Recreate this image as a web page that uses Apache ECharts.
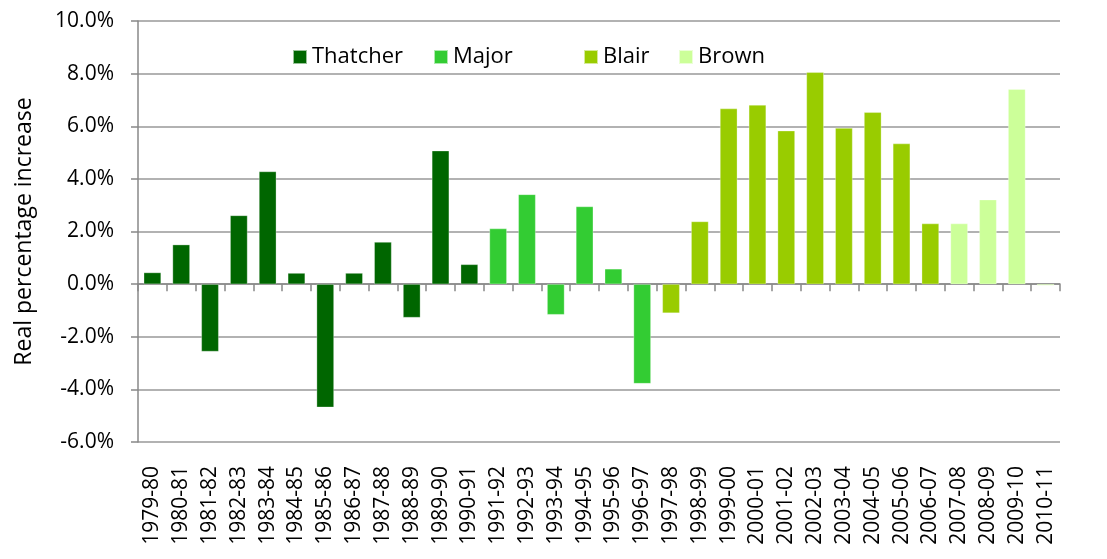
<!DOCTYPE html>
<html>
<head>
<meta charset="utf-8">
<script src="https://cdn.jsdelivr.net/npm/echarts@6/dist/echarts.min.js"></script>
<style>
  html, body { margin: 0; padding: 0; background: #fff; }
  #chart { width: 1107px; height: 559px; }
</style>
</head>
<body>
<div id="chart"></div>
<script>
var years = ['1979-80','1980-81','1981-82','1982-83','1983-84','1984-85','1985-86','1986-87',
    '1987-88','1988-89','1989-90','1990-91','1991-92','1992-93','1993-94','1994-95',
    '1995-96','1996-97','1997-98','1998-99','1999-00','2000-01','2001-02','2002-03',
    '2003-04','2004-05','2005-06','2006-07','2007-08','2008-09','2009-10','2010-11'];
// real percentage increase per year, split by prime minister
var thatcher = [0.44, 1.50, -2.56, 2.61, 4.28, 0.42, -4.68, 0.42, 1.60, -1.27, 5.07, 0.75];
var major = [2.11, 3.41, -1.16, 2.95, 0.58, -3.78];
var blair = [-1.10, 2.38, 6.67, 6.81, 5.83, 8.05, 5.93, 6.53, 5.34, 2.30];
var brown = [2.30, 3.21, 7.41, -0.05];
var yTicks = { min: -6, max: 10, step: 2 };

// pad each series so it sits in its own years
function place(vals, start) {
    var out = [];
    for (var i = 0; i < years.length; i++) {
        var j = i - start;
        out.push(j >= 0 && j < vals.length ? vals[j] : '-');
    }
    return out;
}
var groups = [
    { name: 'Thatcher', vals: thatcher, color: '#006600', legendX: 287 },
    { name: 'Major', vals: major, color: '#33cc33', legendX: 428 },
    { name: 'Blair', vals: blair, color: '#99cc00', legendX: 578 },
    { name: 'Brown', vals: brown, color: '#ccff99', legendX: 673 }
];
var start = 0;
var series = groups.map(function(g) {
    var s = {
        name: g.name,
        type: 'bar',
        stack: 'pm',
        barWidth: '60%',
        itemStyle: { color: g.color, borderColor: 'rgba(255,255,255,0.6)', borderWidth: 0.5 },
        data: place(g.vals, start)
    };
    start += g.vals.length;
    return s;
});

var font = '"Open Sans", "Noto Sans", sans-serif';
// one legend per item, Excel spaces them unevenly
var legends = groups.map(function(g) {
    return {
        left: g.legendX,
        top: 41,
        itemWidth: 14,
        itemHeight: 14,
        itemGap: 0,
        icon: 'rect',
        selectedMode: false,
        textStyle: { fontSize: 22, color: '#000', fontFamily: font },
        data: [g.name]
    };
});

var myChart = echarts.init(document.getElementById('chart'));
var option = {
    animation: false,
    textStyle: { fontFamily: font },
    legend: legends,
    grid: { left: 138, right: 47, top: 21, bottom: 117 },
    xAxis: [{
        type: 'category',
        data: years,
        position: 'bottom',
        axisLine: { show: false, onZero: false },
        axisTick: { show: false },
        axisLabel: { rotate: 90, fontSize: 21, color: '#000', margin: 24, interval: 0 }
    }, {
        type: 'category',
        data: years,
        position: 'bottom',
        axisLine: { show: true, onZero: true, lineStyle: { color: '#888', width: 1.5 } },
        axisTick: { show: true, interval: 0, length: 7, lineStyle: { color: '#888', width: 1.5 } },
        axisLabel: { show: false }
    }],
    yAxis: {
        type: 'value',
        min: yTicks.min,
        max: yTicks.max,
        interval: yTicks.step,
        name: 'Real percentage increase',
        nameLocation: 'middle',
        nameGap: 102,
        nameTextStyle: { fontSize: 23, color: '#000' },
        axisLine: { show: true, lineStyle: { color: '#888', width: 1.5 } },
        axisTick: { show: true, length: 7, lineStyle: { color: '#888', width: 1.5 } },
        splitLine: { lineStyle: { color: '#999', width: 1.5 } },
        axisLabel: {
            fontSize: 21,
            color: '#000',
            margin: 24,
            formatter: function(v) { return v.toFixed(1) + '%'; }
        }
    },
    series: series
};
myChart.setOption(option);
</script>
</body>
</html>
